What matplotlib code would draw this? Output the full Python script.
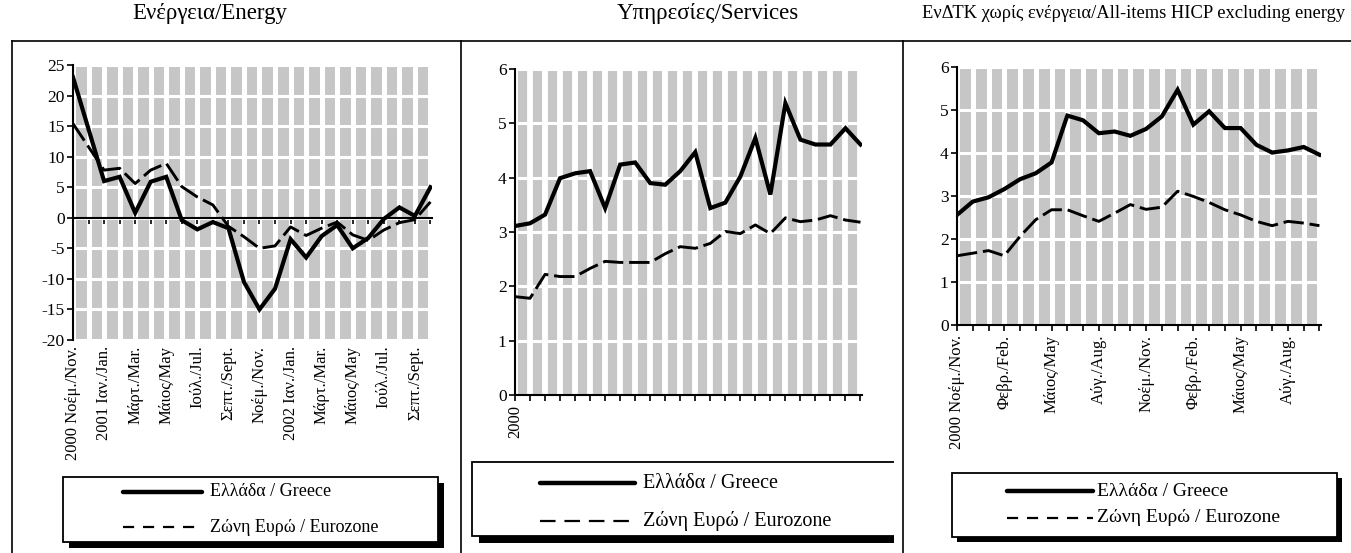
import matplotlib
matplotlib.use("Agg")
import matplotlib.pyplot as plt
from matplotlib.patches import Rectangle
from matplotlib.lines import Line2D

plt.rcParams['font.family'] = ['Liberation Serif', 'DejaVu Serif']
plt.rcParams['axes.unicode_minus'] = False

# months: Nov 2000 .. Oct 2002
months = list(range(24))

energy_gr = [23, 14.5, 6, 6.7, 0.8, 5.9, 6.7, -0.4, -1.9, -0.7, -1.7, -10.5,
             -15, -11.6, -3.5, -6.5, -3.0, -1.2, -5.0, -3.3, -0.2, 1.7, 0.3, 5.0]
energy_ez = [15.4, 11.6, 7.8, 8.1, 5.6, 7.8, 8.9, 5.1, 3.4, 2.1, -1.4, -3.1,
             -5.0, -4.6, -1.5, -2.9, -1.7, -0.7, -2.8, -3.7, -2.0, -0.8, -0.3, 2.6]

serv_gr = [3.11, 3.16, 3.32, 3.99, 4.08, 4.12, 3.44, 4.24, 4.28, 3.90, 3.87, 4.12,
           4.47, 3.44, 3.54, 4.02, 4.73, 3.69, 5.37, 4.70, 4.61, 4.61, 4.91, 4.61]
serv_ez = [1.81, 1.78, 2.22, 2.18, 2.18, 2.33, 2.46, 2.44, 2.44, 2.44, 2.60, 2.73,
           2.70, 2.79, 3.01, 2.97, 3.13, 2.97, 3.26, 3.19, 3.22, 3.30, 3.22, 3.18]

core_gr = [2.56, 2.87, 2.97, 3.16, 3.39, 3.53, 3.78, 4.87, 4.76, 4.46, 4.50, 4.40,
           4.56, 4.85, 5.47, 4.66, 4.97, 4.58, 4.58, 4.19, 4.01, 4.06, 4.14, 3.96]
core_ez = [1.61, 1.67, 1.73, 1.61, 2.06, 2.45, 2.68, 2.68, 2.54, 2.41, 2.60, 2.80,
           2.69, 2.74, 3.11, 2.99, 2.85, 2.68, 2.56, 2.41, 2.31, 2.41, 2.37, 2.31]

energy_labels = ['2000 Νοέμ./Nov.', '', '2001 Ιαν./Jan.', '', 'Μάρτ./Mar.', '',
                 'Μάιος/May', '', 'Ιούλ./Jul.', '', 'Σεπτ./Sept.', '', 'Νοέμ./Nov.', '',
                 '2002 Ιαν./Jan.', '', 'Μάρτ./Mar.', '', 'Μάιος/May', '', 'Ιούλ./Jul.', '',
                 'Σεπτ./Sept.', '']
serv_labels = ['2000'] + [''] * 23
core_labels = ['2000 Νοέμ./Nov.', '', '', 'Φεβρ./Feb.', '', '', 'Μάιος/May', '', '',
               'Αύγ./Aug.', '', '', 'Νοέμ./Nov.', '', '', 'Φεβρ./Feb.', '', '',
               'Μάιος/May', '', '', 'Αύγ./Aug.', '', '']

titles = ['Ενέργεια/Energy', 'Υπηρεσίες/Services',
          'ΕνΔΤΚ χωρίς ενέργεια/All-items HICP excluding energy']
legend_labels = ['Ελλάδα / Greece', 'Ζώνη Ευρώ / Eurozone']

W, H = 1351, 553
fig = plt.figure(figsize=(W / 100, H / 100), dpi=100)


def box(x0, y0, x1, y1):
    # pixel box (top-left origin) -> figure rect
    return [x0 / W, 1 - y1 / H, (x1 - x0) / W, (y1 - y0) / H]


def fx(px):
    return px / W


def fy(py):
    return 1 - py / H


def panel(rect, gr, ez, labels, ylim, yticks, vgrid, zero_axis=False):
    ax = fig.add_axes(rect)
    ax.set_facecolor('#c6c6c6')
    ax.plot(months, gr, color='black', lw=3.0, solid_joinstyle='miter', zorder=4)
    ax.plot(months, ez, color='black', lw=2.1, dashes=(7, 2), zorder=4)
    ax.set_xlim(0, 23.1)
    ax.set_ylim(*ylim)
    ax.set_yticks(yticks)
    ax.set_xticks(months)
    ax.grid(axis='x', color='white', lw=vgrid, zorder=1)
    ax.grid(axis='y', color='white', lw=2.2, zorder=1)
    ax.set_axisbelow(True)
    for s in ['top', 'right']:
        ax.spines[s].set_visible(False)
    ax.spines['left'].set_linewidth(1.5)
    ax.spines['bottom'].set_linewidth(1.5)
    ax.tick_params(axis='y', direction='out', length=4, width=1.2, labelsize=12.5, pad=2)
    if zero_axis:
        ax.spines['bottom'].set_position(('data', 0))
        ax.tick_params(axis='x', direction='out', length=4, width=1.2, labelbottom=False)
        sec = ax.secondary_xaxis('bottom')
        sec.set_xticks(months)
        sec.set_xticklabels(labels, rotation=90, fontsize=12)
        sec.tick_params(length=0, pad=4)
        sec.spines['bottom'].set_visible(False)
    else:
        ax.tick_params(axis='x', direction='out', length=4, width=1.2, pad=3)
        ax.set_xticklabels(labels, rotation=90, fontsize=12)
    return ax


panel(box(73, 65, 432, 340), energy_gr, energy_ez, energy_labels,
      (-20, 25), range(-20, 26, 5), 3.6, zero_axis=True)
panel(box(515, 69, 862, 395), serv_gr, serv_ez, serv_labels,
      (0, 6), range(0, 7), 4.2)
panel(box(957, 67, 1321, 325), core_gr, core_ez, core_labels,
      (0, 6), range(0, 7), 3.6)

# panel titles
for t, xc, fs in zip(titles, [210, 708, 1134], [16.5, 16.5, 13.3]):
    fig.text(fx(xc), fy(14), t, ha='center', va='center', fontsize=fs)

# panel frames
for x in [12, 461, 903]:
    fig.add_artist(Line2D([fx(x), fx(x)], [fy(41), fy(560)], color='black', lw=1.2,
                          zorder=8))
fig.add_artist(Line2D([fx(12), fx(1351)], [fy(41), fy(41)], color='black', lw=1.2))


def legend_box(x0, y0, x1, y1, sh, lx0, lx1, ly1, ly2, tx, dash, fs):
    fig.add_artist(Rectangle((fx(x0 + sh), fy(y1 + sh)), (x1 - x0) / W, (y1 - y0) / H,
                             facecolor='black', edgecolor='black', lw=0))
    fig.add_artist(Rectangle((fx(x0), fy(y1)), (x1 - x0) / W, (y1 - y0) / H,
                             facecolor='white', edgecolor='black', lw=1.3))
    fig.add_artist(Line2D([fx(lx0), fx(lx1)], [fy(ly1), fy(ly1)], color='black', lw=3.2,
                          solid_capstyle='round'))
    fig.add_artist(Line2D([fx(lx0), fx(lx1)], [fy(ly2), fy(ly2)], color='black', lw=1.6,
                          dashes=dash))
    fig.text(fx(tx), fy(ly1), legend_labels[0], ha='left', va='center', fontsize=fs)
    fig.text(fx(tx), fy(ly2), legend_labels[1], ha='left', va='center', fontsize=fs)


legend_box(63, 477, 438, 542, 6, 123, 202, 492, 527, 210, (5, 4), 13)
legend_box(472, 462, 910, 536, 7, 540, 635, 483, 521, 643, (7, 4), 14.5)
legend_box(952, 473, 1337, 537, 5, 1007, 1093, 491, 518, 1097, (5, 4), 14)
# middle panel frame clips its legend on the right
fig.add_artist(Rectangle((fx(893.5), 0), 36 / W, fy(450), facecolor='white', lw=0,
                         zorder=5))

fig.savefig('out.png', dpi=100)
